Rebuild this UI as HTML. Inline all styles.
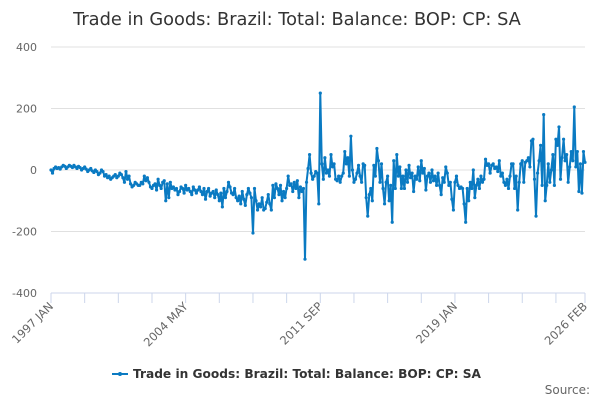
<!DOCTYPE html>
<html><head><meta charset="utf-8"><style>
body{margin:0;background:#fff;font-family:"Liberation Sans","DejaVu Sans",sans-serif}
svg text{font-family:"DejaVu Sans","Liberation Sans",sans-serif}
</style></head><body>
<svg id="chart" width="600" height="400" xmlns="http://www.w3.org/2000/svg">
<text x="297" y="25" text-anchor="middle" font-size="17.8" fill="#333">Trade in Goods: Brazil: Total: Balance: BOP: CP: SA</text>
<g id="grid"></g>
<g id="yaxis"></g>
<g id="xaxis"></g>
<g id="series"></g>
<g>
<line x1="112" y1="374" x2="128" y2="374" stroke="#0a7ac2" stroke-width="2"/>
<circle cx="120" cy="374" r="2" fill="#0a7ac2"/>
<text x="133" y="378" font-size="12.2" font-weight="bold" fill="#333">Trade in Goods: Brazil: Total: Balance: BOP: CP: SA</text>
</g>
<text x="590" y="394" text-anchor="end" font-size="12" fill="#666">Source:</text>
</svg>
<script>
const yTicks=[400,200,0,-200,-400];
const xLabels=["1997 JAN","2004 MAY","2011 SEP","2019 JAN","2026 FEB"];
const xLabelMonths=[0,88,176,264,349];
const values=[
0,-10,5,10,5,8,3,10,15,12,5,10,
15,12,8,15,10,5,12,8,0,5,10,3,
-5,0,5,-3,-8,0,-5,-15,-10,0,-5,-20,
-15,-25,-20,-30,-25,-20,-15,-25,-20,-10,-15,-25,
-40,-5,-30,-20,-45,-55,-50,-40,-45,-50,-50,-40,
-45,-20,-35,-25,-40,-55,-60,-50,-45,-65,-30,-50,
-60,-40,-35,-100,-45,-90,-40,-60,-55,-65,-60,-80,
-70,-55,-60,-75,-50,-65,-60,-70,-80,-55,-65,-75,
-65,-55,-70,-80,-60,-95,-70,-60,-85,-75,-70,-90,
-65,-80,-100,-75,-120,-60,-90,-70,-40,-55,-75,-80,
-60,-90,-100,-85,-110,-70,-95,-115,-80,-60,-75,-90,
-205,-60,-100,-130,-110,-120,-90,-130,-125,-105,-80,-110,
-130,-50,-90,-45,-60,-80,-50,-100,-70,-90,-60,-20,
-50,-45,-70,-40,-60,-35,-90,-55,-70,-60,-290,-40,
5,50,-10,-30,-20,-5,-10,-110,250,20,-30,40,
-10,0,-20,50,10,20,-30,-35,-20,-40,-20,-10,
60,20,40,-20,110,0,-40,-30,-10,15,-20,-40,
20,15,-90,-150,-80,-60,-100,15,-20,70,30,-40,
20,-60,-110,-40,-20,-100,-50,-170,30,-60,50,-20,
10,-60,-20,-60,0,-40,15,-25,-10,-70,-20,-30,
10,-35,30,-10,5,-65,-20,-10,-40,0,-35,-20,
-50,-10,-50,-80,-25,-40,10,-10,-50,-40,-95,-130,
-40,-20,-50,-60,-55,-60,-110,-170,-60,-100,-40,-60,
0,-90,-50,-30,-60,-20,-40,-30,35,15,20,-10,
15,20,5,10,-5,30,-20,-10,-40,-50,-30,-60,
-20,20,20,-60,-20,-130,-40,20,30,-40,25,30,
40,10,95,100,-30,-150,-10,30,80,-50,180,-100,
-50,20,-40,0,50,-50,100,80,140,-30,40,100,
30,50,-40,10,60,30,205,10,60,-70,20,-75,
60,25];
const NS="http://www.w3.org/2000/svg";
const x0=51,x1=585,yTop=47,yBot=293;
const nMax=values.length-1;
function xs(i){return x0+(x1-x0)*i/nMax;}
function ys(v){return yBot-(v+400)/800*(yBot-yTop);}
function mk(t,a,p){const e=document.createElementNS(NS,t);for(const k in a)e.setAttribute(k,a[k]);p.appendChild(e);return e;}
const grid=document.getElementById('grid'),ya=document.getElementById('yaxis'),xa=document.getElementById('xaxis'),se=document.getElementById('series');
yTicks.forEach(v=>{
 if(v!==-400){const g=mk('line',{x1:x0,x2:x1,y1:ys(v),y2:ys(v),stroke:'#e0e0e0','stroke-width':1},grid);
 
 }
 const t=mk('text',{x:37,y:ys(v)+4,'text-anchor':'end','font-size':11,fill:'#666'},ya);
 t.textContent=v;
 
 
});
const base=mk('line',{x1:x0,x2:x1,y1:yBot,y2:yBot,stroke:'#ccd6eb','stroke-width':1},xa);


const tickMonths=[];for(let m=0;m<nMax;m+=22)tickMonths.push(m);tickMonths.push(nMax);
tickMonths.forEach(m=>{const l=mk('line',{x1:xs(m),x2:xs(m),y1:yBot,y2:yBot+10,stroke:'#ccd6eb','stroke-width':1},xa);
 
 });
xLabels.forEach((s,i)=>{const x=xs(xLabelMonths[i]);const t=mk('text',{x:x+3,y:yBot+14,'text-anchor':'end','font-size':11.5,fill:'#666',transform:`rotate(-45 ${x+3} ${yBot+14})`},xa);
 t.textContent=s;
 
 });
const pts=values.map((v,i)=>xs(i).toFixed(1)+','+ys(v).toFixed(1)).join(' ');
const pl=mk('polyline',{points:pts,fill:'none',stroke:'#0a7ac2','stroke-width':2,'stroke-linejoin':'round'},se);


values.forEach((v,i)=>{const c=mk('circle',{cx:xs(i),cy:ys(v),r:1.6,fill:'#0a7ac2'},se);
 
 });
</script>
</body></html>
